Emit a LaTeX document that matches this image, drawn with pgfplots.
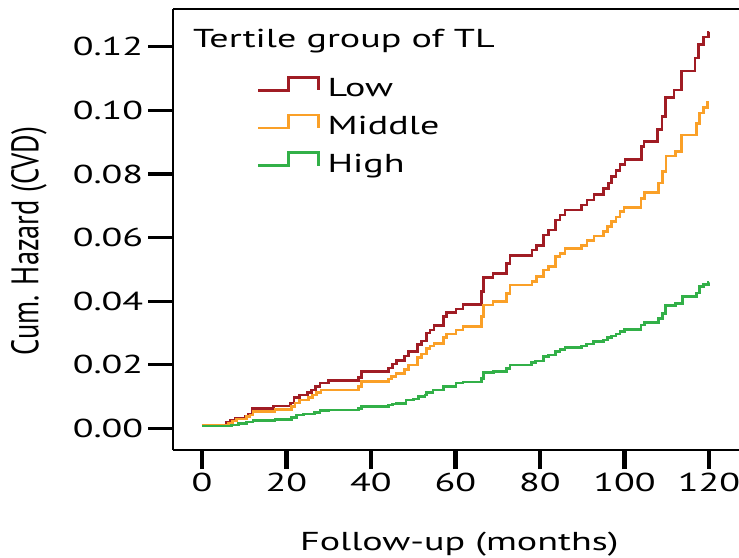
\documentclass[border=0pt]{standalone}
\usepackage{fontspec}
\usepackage{graphicx}
\usepackage{pgfplots}
\pgfplotsset{compat=1.18}
\setmainfont{PT Sans}[FakeStretch=1.47]
\newfontfamily\plainfont{PT Sans}
\newcommand{\fs}{\fontsize{26}{30}\selectfont}

\definecolor{lowred}{RGB}{160,28,36}
\definecolor{midorange}{RGB}{250,160,40}
\definecolor{highgreen}{RGB}{50,176,72}

\begin{document}
\begin{tikzpicture}
\begin{axis}[
  name=ax,
  scale only axis,
  width=566bp, height=441bp,
  xmin=-6.86, xmax=127.1,
  ymin=-0.00683, ymax=0.1319,
  axis lines*=left,
  axis line style={line width=2.5bp, black},
  xtick={0,20,...,120},
  ytick={0,0.02,0.04,0.06,0.08,0.10,0.12},
  minor tick num=0,
  tick align=outside,
  major x tick style={line width=4.2bp, black, /pgfplots/major tick length=19bp},
  major y tick style={line width=3.1bp, black, /pgfplots/major tick length=25bp},
  /pgf/number format/assume math mode=true,
  yticklabel style={xshift=-22bp, /pgf/number format/.cd, fixed, fixed zerofill, precision=2},
  xticklabel style={yshift=-15bp},
  tick label style={font=\fs},
  xlabel={Follow-up (months)},
  ylabel={\scalebox{1}[1.35]{\fontsize{28.5}{32}\selectfont\plainfont Cum. Hazard (CVD)}},
  label style={font=\fs},
  xlabel style={at={(axis description cs:0.506,-0.228)}, anchor=base},
  ylabel style={at={(axis description cs:-0.2544,0.474)}, anchor=center},
  legend image code/.code={\draw[#1] (0bp,0bp) -- (30bp,0bp) -- (30bp,13bp) -- (60bp,13bp) -- (60bp,0bp);},
  legend cell align=left,
  legend style={draw=none, fill=none, inner sep=0pt, font=\fs,
    at={(axis description cs:0.1484,0.848)}, anchor=north west,
    row sep=10.9bp, column sep=8bp,
    nodes={inner sep=0pt, text height=19bp, text depth=6bp}},
]
% frame line across the top
\draw[line width=2.4bp, black] (rel axis cs:0,1) -- (rel axis cs:1,1);

% Low tertile
\addplot[const plot, lowred, line width=2.7bp, forget plot] coordinates {
(0,0.0010) (5.85,0.0018) (6.8,0.0024) (8.0,0.0031) (10.2,0.0039) (11.0,0.0045)
(11.9,0.0063) (17.0,0.0070) (21.0,0.0080) (21.8,0.0097) (23.0,0.0105) (24.9,0.0112)
(26.0,0.0120) (26.9,0.0131) (27.9,0.0142) (29.9,0.0150) (37.0,0.0159) (37.8,0.0178)
(44.1,0.0190) (45.1,0.0202) (46.1,0.0213) (48.0,0.0227) (48.8,0.0241) (51.0,0.0264)
(52.0,0.0275) (53.2,0.0300) (54.0,0.0309) (54.9,0.0324) (57.1,0.0351) (57.9,0.0365)
(60.1,0.0375) (61.8,0.0390) (66.2,0.0430) (66.7,0.0475) (68.9,0.0487) (72.1,0.0518)
(72.9,0.0543) (78.1,0.0561) (79.2,0.0576) (80.8,0.0608) (82.0,0.0624) (83.6,0.0655)
(84.7,0.0671) (85.9,0.0687) (89.9,0.0702) (91.1,0.0718) (92.8,0.0736) (95.0,0.0755)
(96.2,0.0772) (97.0,0.0791) (98.0,0.0812) (98.9,0.0830) (100.1,0.0846) (104.1,0.0886)
(104.6,0.0903) (107.8,0.0940) (108.9,0.0980) (109.7,0.1041) (111.7,0.1064) (113.5,0.1124)
(116.7,0.1165) (117.5,0.1208) (118.7,0.1231) (119.8,0.1247) (120,0.1247)
};

% Middle tertile
\addplot[const plot, midorange, line width=2.7bp, forget plot] coordinates {
(0,0.0009) (6.2,0.0016) (7.3,0.0023) (8.2,0.0029) (10.6,0.0037) (11.4,0.0042)
(12.1,0.0053) (17.3,0.0060) (21.2,0.0068) (22.0,0.0080) (23.0,0.0089) (25.2,0.0096)
(26.1,0.0105) (27.1,0.0113) (28.2,0.0120) (37.0,0.0131) (37.8,0.0147) (44.1,0.0155)
(44.9,0.0164) (45.9,0.0173) (48.0,0.0185) (48.8,0.0199) (51.0,0.0223) (52.0,0.0234)
(53.2,0.0252) (54.0,0.0259) (54.9,0.0267) (57.1,0.0286) (57.9,0.0297) (60.1,0.0309)
(61.8,0.0320) (66.2,0.0351) (66.7,0.0388) (68.9,0.0398) (72.0,0.0425) (72.9,0.0451)
(78.1,0.0462) (79.2,0.0477) (80.8,0.0498) (82.0,0.0508) (83.6,0.0540) (84.7,0.0550)
(85.9,0.0565) (89.9,0.0576) (91.1,0.0590) (92.8,0.0605) (95.0,0.0618) (96.0,0.0634)
(97.0,0.0650) (98.0,0.0665) (98.9,0.0681) (99.9,0.0694) (103.9,0.0723) (104.7,0.0741)
(108.0,0.0772) (109.0,0.0807) (109.8,0.0857) (112.0,0.0870) (113.5,0.0923) (117.0,0.0958)
(117.7,0.0992) (118.7,0.1009) (119.7,0.1024) (120,0.1024)
};

% High tertile
\addplot[const plot, highgreen, line width=2.7bp, forget plot] coordinates {
(0,0.0007) (7.0,0.0010) (8.6,0.0016) (10.5,0.0020) (12.1,0.0024) (17.3,0.0028)
(21.2,0.0035) (22.4,0.0042) (24.0,0.0045) (26.7,0.0049) (27.9,0.0055) (29.9,0.0058)
(37.0,0.0063) (37.8,0.0068) (44.1,0.0073) (45.1,0.0076) (46.1,0.0079) (48.3,0.0089)
(50.0,0.0092) (51.2,0.0099) (52.8,0.0105) (53.2,0.0112) (54.7,0.0120) (57.1,0.0131)
(60.1,0.0142) (61.8,0.0146) (66.2,0.0157) (66.7,0.0175) (69.0,0.0178) (72.0,0.0189)
(72.9,0.0199) (78.0,0.0206) (79.0,0.0212) (80.8,0.0225) (82.0,0.0231) (83.6,0.0241)
(84.7,0.0248) (85.9,0.0255) (89.9,0.0259) (91.0,0.0265) (92.6,0.0272) (95.0,0.0278)
(96.0,0.0286) (97.0,0.0290) (98.0,0.0297) (98.9,0.0304) (100.0,0.0311) (103.9,0.0325)
(104.7,0.0333) (108.0,0.0346) (109.0,0.0362) (109.7,0.0387) (112.0,0.0393) (113.8,0.0414)
(117.1,0.0426) (117.7,0.0445) (118.7,0.0453) (119.8,0.0458) (120,0.0458)
};

\addlegendimage{lowred, line width=2.4bp}
\addlegendentry{Low}
\addlegendimage{midorange, line width=2.4bp}
\addlegendentry{Middle}
\addlegendimage{highgreen, line width=2.4bp}
\addlegendentry{High}

\node[anchor=base west, inner sep=0pt, font=\fs] at (axis description cs:0.0353,0.9116) {Tertile group of TL};
\end{axis}
\pgfresetboundingbox
\path ([shift={(-173bp,-108bp)}]ax.south west) rectangle ([shift={(0bp,9bp)}]ax.north east);
\end{tikzpicture}
\end{document}
